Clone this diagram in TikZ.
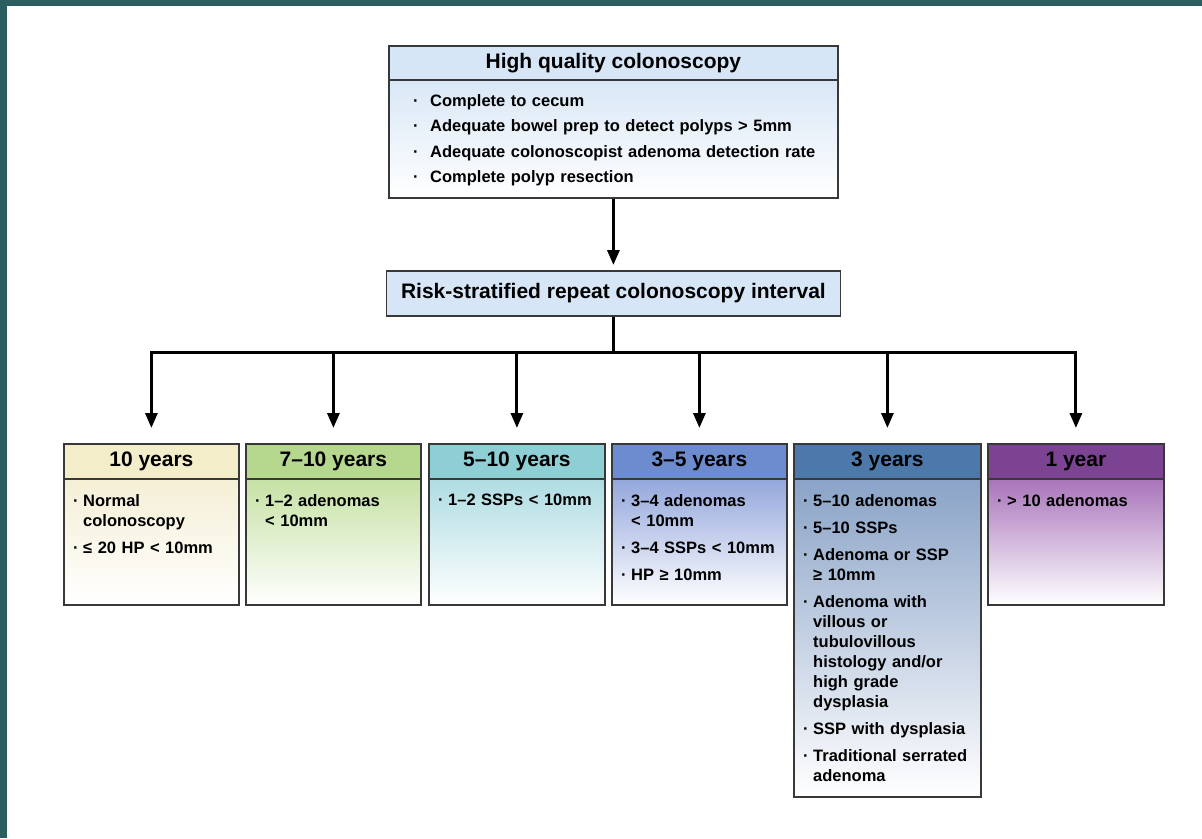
\documentclass[tikz,border=0pt]{standalone}
\usepackage{fontspec}
\setmainfont{Liberation Sans}
\usetikzlibrary{arrows.meta}

\definecolor{frame}{HTML}{2B5E60}
\definecolor{edge}{HTML}{383838}
\definecolor{qhead}{HTML}{D6E6F7}
\definecolor{qbody}{HTML}{D9E7F6}
\definecolor{hA}{HTML}{F4EDC9}\definecolor{bA}{HTML}{F5EFD6}
\definecolor{hB}{HTML}{B5D78E}\definecolor{bB}{HTML}{C6E1A4}
\definecolor{hC}{HTML}{8ECFD6}\definecolor{bC}{HTML}{AEDCE2}
\definecolor{hD}{HTML}{6D8CCF}\definecolor{bD}{HTML}{94A7DC}
\definecolor{hE}{HTML}{4C79A9}\definecolor{bE}{HTML}{8AA3C7}
\definecolor{hF}{HTML}{7B4391}\definecolor{bF}{HTML}{A874BA}

% list set-up: space between items, no hyphenation
\newcommand{\listsetup}{\setlength{\parskip}{7pt}\hyphenpenalty=10000 \exhyphenpenalty=10000 }
% bullet item for the interval boxes
\newcommand{\itm}[1]{\hangindent=10pt\hangafter=1\noindent\hbox to 10pt{\char"00B7\hss}#1\par}
% bullet item for the quality box
\newcommand{\qitm}[1]{\noindent\hbox to 17pt{\char"00B7\hss}#1\par}

\begin{document}
\begin{tikzpicture}[x=1pt,y=-1pt,
  box/.style={draw=edge, line width=1.8pt, rectangle, inner sep=0pt, anchor=north west},
  hdr/.style={box, font=\fontsize{21}{24}\selectfont\bfseries},
  txt/.style={anchor=north west, inner sep=0pt, text width=#1, align=left,
    font=\fontsize{16.5}{20}\selectfont\bfseries},
  wire/.style={line width=3pt, black},
  arr/.style={wire, -{Triangle[width=12pt,length=15pt]}}
]
\useasboundingbox (0,0) rectangle (1202,838);
\fill[white] (0,0) rectangle (1202,838);
\fill[frame] (0,0) rectangle (1202,6);
\fill[frame] (0,0) rectangle (7,838);

% quality box
\node[box, top color=qbody, bottom color=white, minimum width=449, minimum height=118] (qb) at (388,79) {};
\node[hdr, fill=qhead, minimum width=449, minimum height=34] (q) at (388,45) {High quality colonoscopy};
\node[anchor=north west, inner sep=0pt, text width=420, align=left,
  font=\fontsize{16.5}{25.5}\selectfont\bfseries] (qt) at ([shift={(25,15)}]qb.north west)
  {\qitm{Complete to cecum}\qitm{Adequate bowel prep to detect polyps > 5mm}%
   \qitm{Adequate colonoscopist adenoma detection rate}\qitm{Complete polyp resection}};

% interval heading
\node[hdr, fill=qhead, minimum width=454, minimum height=45] (r) at (385.5,270) {Risk-stratified repeat colonoscopy interval};

% interval boxes
\node[box, top color=bA, bottom color=white, minimum width=175, minimum height=126] (b1) at (63,478) {};
\node[hdr, fill=hA, minimum width=175, minimum height=35] (h1) at (63,443) {10 years};
\node[txt=160] (t1) at ([shift={(10,16)}]b1.north west)
  {\listsetup\itm{Normal colonoscopy}\itm{≤ 20 HP <~10mm}};

\node[box, top color=bB, bottom color=white, minimum width=175, minimum height=126] (b2) at (245,478) {};
\node[hdr, fill=hB, minimum width=175, minimum height=35] (h2) at (245,443) {7–10 years};
\node[txt=160] (t2) at ([shift={(10,16)}]b2.north west)
  {\listsetup\itm{1–2 adenomas <~10mm}};

\node[box, top color=bC, bottom color=white, minimum width=176, minimum height=126] (b3) at (428,478) {};
\node[hdr, fill=hC, minimum width=176, minimum height=35] (h3) at (428,443) {5–10 years};
\node[txt=160] (t3) at ([shift={(10,16)}]b3.north west)
  {\listsetup\itm{1–2 SSPs <~10mm}};

\node[box, top color=bD, bottom color=white, minimum width=175, minimum height=126] (b4) at (611,478) {};
\node[hdr, fill=hD, minimum width=175, minimum height=35] (h4) at (611,443) {3–5 years};
\node[txt=160] (t4) at ([shift={(10,16)}]b4.north west)
  {\listsetup\itm{3–4 adenomas <~10mm}\itm{3–4 SSPs <~10mm}\itm{HP ≥~10mm}};

\node[box, top color=bE, bottom color=white, minimum width=187, minimum height=318] (b5) at (793,478) {};
\node[hdr, fill=hE, minimum width=187, minimum height=35] (h5) at (793,443) {3 years};
\node[txt=168] (t5) at ([shift={(10,16)}]b5.north west)
  {\listsetup\itm{5–10 adenomas}\itm{5–10 SSPs}\itm{Adenoma or SSP ≥~10mm}%
   \itm{Adenoma with\newline villous or\newline tubulovillous\newline histology and/or\newline high grade\newline dysplasia}%
   \itm{SSP with dysplasia}\itm{Traditional serrated\newline adenoma}};

\node[box, top color=bF, bottom color=white, minimum width=176, minimum height=126] (b6) at (987,478) {};
\node[hdr, fill=hF, minimum width=176, minimum height=35] (h6) at (987,443) {1 year};
\node[txt=160] (t6) at ([shift={(10,16)}]b6.north west)
  {\listsetup\itm{>~10 adenomas}};

% connectors
\coordinate (bus) at (612.5,352);
\draw[arr, shorten >=5pt] (qb.south) -- (r.north);
\draw[arr, shorten >=15pt] (r.south) -- (r.south |- bus) -| (h1.north);
\draw[arr, shorten >=15pt] (r.south) -- (r.south |- bus) -| (h6.north);
\foreach \n in {h2,h3,h4,h5}
  \draw[arr, shorten >=15pt] (bus -| \n.north) -- (\n.north);
\end{tikzpicture}
\end{document}
